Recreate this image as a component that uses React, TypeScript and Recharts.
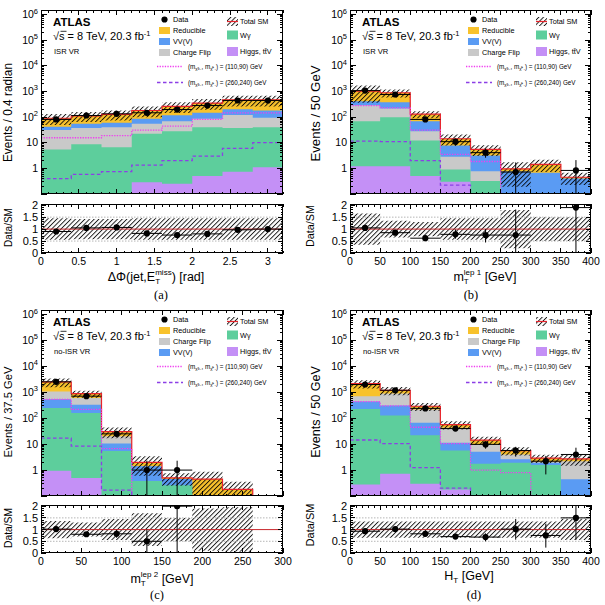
import React from 'react';
import { ComposedChart, Area, Line, Scatter, ErrorBar, XAxis, YAxis, ReferenceLine } from 'recharts';

// ---------- (a) delta phi(jet, ETmiss), ISR VR ----------
const dphiEdges = [0, 0.4, 0.8, 1.2, 1.6, 2.0, 2.4, 2.8, 3.2];
const dphiHiggs = [0, 0, 0, 0.29, 0.25, 0.5, 0.74, 1.1];
const dphiWgamma = [5.5, 8.8, 6.7, 22, 28, 40, 37, 39];
const dphiChargeFlip = [25.5, 29, 33, 33, 41, 46, 82, 54];
const dphiVV = [11, 17, 20, 31, 49, 61, 80, 86];
const dphiReducible = [48, 57, 68, 94, 142, 203, 270, 290];
const dphiUnc = [0.45, 0.42, 0.42, 0.45, 0.45, 0.45, 0.45, 0.45];
const dphiSig1 = [15.6, 15.6, 19, 31, 44, 81, 147, 147];
const dphiSig2 = [0.4, 0.58, 0.74, 1.34, 2.0, 3.0, 6.0, 10];
const dphiData = [81, 115, 134, 147, 197, 282, 444, 444];
const dphiDataLo = [72, 104, 122, 135, 183, 265, 423, 423];
const dphiDataHi = [90, 126, 146, 159, 211, 299, 465, 465];
const dphiRatio = [0.9, 1.05, 1.07, 0.82, 0.75, 0.8, 0.97, 1.0];
const dphiRatioLo = [0.8, 0.95, 0.97, 0.75, 0.69, 0.75, 0.92, 0.95];
const dphiRatioHi = [1.0, 1.15, 1.17, 0.89, 0.81, 0.85, 1.02, 1.05];

// ---------- (b) mT lep1, ISR VR ----------
const mt1Edges = [0, 50, 100, 150, 200, 250, 300, 350, 400];
const mt1Higgs = [1.2, 1.2, 0.5, 0.3, 0, 0, 0, 0];
const mt1Wgamma = [67.8, 97.8, 11.8, 0.61, 0.32, 0, 0, 0];
const mt1ChargeFlip = [221, 117, 15.7, 1.94, 0.46, 0, 0, 0];
const mt1VV = [125, 164, 41, 4.95, 2.42, 0.75, 0.68, 0.4];
const mt1Reducible = [615, 510, 61, 6.5, 2.3, 0.21, 0.75, 0.05];
const mt1Unc = [0.65, 0.35, 0.3, 0.45, 0.45, 0.8, 0.5, 0.5];
const mt1Sig1 = [282, 230, 31, 3.5, 1.85, 0.01, 0.01, 0.01];
const mt1Sig2 = [11.5, 11, 2.0, 0.22, 0.01, 0.01, 0.01, 0.01];
const mt1Data = [1080, 760, 81, 11, 4.1, 0.72, null, 0.83];
const mt1DataLo = [1047, 732, 72, 7.7, 2.6, 0.1, null, 0.1];
const mt1DataHi = [1113, 788, 90, 14.3, 6, 1.7, null, 2.1];
const mt1Ratio = [1.05, 0.85, 0.62, 0.78, 0.75, 0.75, null, 1.9];
const mt1RatioLo = [1.01, 0.82, 0.56, 0.6, 0.44, 0, null, 0];
const mt1RatioHi = [1.09, 0.88, 0.68, 0.98, 1.0, 1.82, null, 2.05];

// ---------- (c) mT lep2, no-ISR VR ----------
const mt2Edges = [0, 37.5, 75, 112.5, 150, 187.5, 225, 262.5, 300];
const mt2Higgs = [0.95, 0.5, 0, 0, 0, 0, 0, 0];
const mt2Wgamma = [249, 160, 5.5, 0.38, 0.26, 0, 0, 0];
const mt2VV = [290, 170, 5.2, 1.04, 0.19, 0, 0, 0];
const mt2ChargeFlip = [540, 270, 9.3, 0, 0, 0, 0, 0];
const mt2Reducible = [1420, 290, 10.5, 0.58, 0.05, 0.45, 0.18, 0];
const mt2Unc = [0.37, 0.3, 0.45, 0.7, 0.5, 0.9, 0.95, 0];
const mt2Sig1 = [530, 218, 6.7, 0.01, 0.01, 0.01, 0.01, 0.01];
const mt2Sig2 = [17, 8.4, 0.17, 0.01, 0.01, 0.01, 0.01, 0.01];
const mt2Data = [2550, 710, 25, 1, 1, null, null, null];
const mt2DataLo = [2500, 683, 20, 0.1, 0.1, null, null, null];
const mt2DataHi = [2600, 737, 30, 2.3, 2.3, null, null, null];
const mt2Ratio = [1.02, 0.8, 0.82, 0.5, 2.0, null, null, null];
const mt2RatioLo = [0.99, 0.77, 0.65, 0, 0, null, null, null];
const mt2RatioHi = [1.05, 0.83, 0.99, 1.0, 2.05, null, null, null];

// ---------- (d) HT, no-ISR VR ----------
const htEdges = [0, 50, 100, 150, 200, 250, 300, 350, 400];
const htHiggs = [0.28, 0.72, 0.3, 0.18, 0, 0, 0, 0];
const htWgamma = [225, 127, 21.7, 5.5, 1.76, 1.9, 1.56, 0];
const htVV = [215, 182, 45, 5.7, 3.34, 0.7, 0.37, 0.44];
const htChargeFlip = [270, 590, 151, 31.6, 4.7, 1.4, 0.17, 1.76];
const htReducible = [1440, 280, 72, 14, 4.6, 1.6, 0.8, 0.5];
const htUnc = [0.35, 0.35, 0.35, 0.35, 0.35, 0.35, 0.35, 0.45];
const htSig1 = [435, 300, 45, 10.4, 0.99, 0.8, 0.01, 0.01];
const htSig2 = [14.5, 10.4, 1.24, 0.2, 0.01, 0.01, 0.01, 0.01];
const htData = [2000, 1200, 240, 40, 9.8, 5.7, 2.2, 4.0];
const htDataLo = [1955, 1165, 225, 33.5, 6.7, 3.3, 0.68, 2.2];
const htDataHi = [2045, 1235, 255, 46.5, 12.9, 7.9, 3.5, 7.3];
const htRatio = [0.93, 1.02, 0.82, 0.7, 0.68, 1.02, 0.75, 1.5];
const htRatioLo = [0.91, 0.99, 0.76, 0.6, 0.5, 0.57, 0.23, 0.57];
const htRatioHi = [0.95, 1.05, 0.88, 0.8, 0.84, 1.45, 1.25, 2.05];

// axis ticks / labels
const logMajor = [0.1, 1, 10, 100, 1e3, 1e4, 1e5, 1e6];
const logMinorMult = [2, 3, 4, 5, 6, 7, 8, 9];
const ratioMajor = [0, 0.5, 1, 1.5, 2];
const dphiMajor = [0, 0.5, 1, 1.5, 2, 2.5, 3];
const gev400Major = [0, 50, 100, 150, 200, 250, 300, 350, 400];
const gev300Major = [0, 50, 100, 150, 200, 250, 300];
const signalMasses = ['110,90', '260,240'];

const FONT = '"Liberation Sans", Arial, Helvetica, sans-serif';
const SERIF = '"Liberation Serif", "Times New Roman", serif';

const COL_REDUCIBLE = '#f8c22c';
const COL_VV = '#5a9bf3';
const COL_CF = '#c9c9c9';
const COL_WG = '#5dce9c';
const COL_HIGGS = '#c490f6';
const COL_TOTAL = '#e8232b';
const COL_SIG1 = '#f03ef0';
const COL_SIG2 = '#8c3fe6';

const YMIN = 0.1;
const YMAX = 1.5e6;
const RMAX = 2.05;
const YW = 40;
const RM = 14;
const XH = 22;
const TM = 9; // top margin so the top tick labels are not cut

const logTicks: number[] = [];
logMajor.forEach((d) => {
  logTicks.push(d);
  logMinorMult.forEach((m) => {
    if (d * m <= YMAX) logTicks.push(d * m);
  });
});
const ratioTicks: number[] = [];
for (let i = 0; i <= 20; i++) ratioTicks.push(Math.round(i * 10) / 100);

const stepTicks = (max: number, step: number) => {
  const out: number[] = [];
  for (let i = 0; i * step <= max + 1e-9; i++) out.push(Math.round(i * step * 1e6) / 1e6);
  return out;
};

const near = (v: number, list: number[]) => list.some((m) => Math.abs(m - v) < 1e-6);

const makeXTick = (majors: number[], plotH: number, labels: boolean) => (p: any) => {
  const { x, y, payload } = p;
  const v = payload.value as number;
  const major = near(v, majors);
  const len = major ? 5 : 2.5;
  return (
    <g>
      <line x1={x} y1={y} x2={x} y2={y - len} stroke="#000" shapeRendering="crispEdges" />
      <line x1={x} y1={y - plotH} x2={x} y2={y - plotH + len} stroke="#000" shapeRendering="crispEdges" />
      {labels && major && (
        <text x={x} y={y + 12} textAnchor="middle" fontSize={10.5} fontFamily={FONT} fill="#000">
          {String(v)}
        </text>
      )}
    </g>
  );
};

const makeLogTick = (plotW: number) => (p: any) => {
  const { x, y, payload } = p;
  const v = payload.value as number;
  const e = Math.round(Math.log10(v));
  const major = Math.abs(Math.log10(v) - e) < 1e-6;
  const len = major ? 6 : 3;
  return (
    <g>
      <line x1={x} y1={y} x2={x + len} y2={y} stroke="#000" shapeRendering="crispEdges" />
      <line x1={x + plotW} y1={y} x2={x + plotW - len} y2={y} stroke="#000" shapeRendering="crispEdges" />
      {major && e >= 0 && (
        <text x={x - 3} y={y + 3.5} textAnchor="end" fontSize={10.5} fontFamily={FONT} fill="#000">
          {e === 0 ? '1' : e === 1 ? '10' : (
            <>
              10<tspan dy={-4.5} fontSize={7.5}>{e}</tspan>
            </>
          )}
        </text>
      )}
    </g>
  );
};

const makeRatioTick = (plotW: number) => (p: any) => {
  const { x, y, payload } = p;
  const v = payload.value as number;
  const major = near(v, ratioMajor);
  const len = major ? 5 : 2.5;
  return (
    <g>
      <line x1={x} y1={y} x2={x + len} y2={y} stroke="#000" shapeRendering="crispEdges" />
      <line x1={x + plotW} y1={y} x2={x + plotW - len} y2={y} stroke="#000" shapeRendering="crispEdges" />
      {major && (
        <text x={x - 3} y={y + 4} textAnchor="end" fontSize={11} fontFamily={FONT} fill="#000">
          {String(v)}
        </text>
      )}
    </g>
  );
};

const DataDot = (p: any) => <circle cx={p.cx} cy={p.cy} r={3.1} fill="#000" />;

type Item = { label: string; color: string };

const panels = [
  {
    id: 'a', edges: dphiEdges,
    layers: [
      { color: COL_HIGGS, values: dphiHiggs }, { color: COL_WG, values: dphiWgamma },
      { color: COL_CF, values: dphiChargeFlip }, { color: COL_VV, values: dphiVV },
      { color: COL_REDUCIBLE, values: dphiReducible },
    ],
    unc: dphiUnc, sig1: dphiSig1, sig2: dphiSig2,
    data: dphiData, dataLo: dphiDataLo, dataHi: dphiDataHi,
    ratio: dphiRatio, ratioLo: dphiRatioLo, ratioHi: dphiRatioHi,
    xMax: 3.2, xMajor: dphiMajor, xStep: 0.1,
    px: 41, pw: 242, py: 10, mh: 184, ry: 204, rh: 49,
    yTitle: 'Events / 0.4 radian', yTitleSize: 11.9, yTitleX: 12, yTitleY: 112.5,
    rTitleX: 12, rTitleY: 227.5, rTitleSize: 10,
    xTitleKind: 'dphi', xTitleX: 156, xTitleY: 281,
    letter: '(a)', letterX: 161, letterY: 299, region: 'ISR VR',
    col1: [{ label: 'Reducible', color: COL_REDUCIBLE }, { label: 'VV(V)', color: COL_VV }, { label: 'Charge Flip', color: COL_CF }],
  },
  {
    id: 'b', edges: mt1Edges,
    layers: [
      { color: COL_HIGGS, values: mt1Higgs }, { color: COL_WG, values: mt1Wgamma },
      { color: COL_CF, values: mt1ChargeFlip }, { color: COL_VV, values: mt1VV },
      { color: COL_REDUCIBLE, values: mt1Reducible },
    ],
    unc: mt1Unc, sig1: mt1Sig1, sig2: mt1Sig2,
    data: mt1Data, dataLo: mt1DataLo, dataHi: mt1DataHi,
    ratio: mt1Ratio, ratioLo: mt1RatioLo, ratioHi: mt1RatioHi,
    xMax: 400, xMajor: gev400Major, xStep: 10,
    px: 350, pw: 241, py: 10, mh: 184, ry: 204, rh: 49,
    yTitle: 'Events / 50 GeV', yTitleSize: 13.2, yTitleX: 319.5, yTitleY: 113.5,
    rTitleX: 314, rTitleY: 226, rTitleSize: 10.8,
    xTitleKind: 'lep 1', xTitleX: 485, xTitleY: 281,
    letter: '(b)', letterX: 471, letterY: 299, region: 'ISR VR',
    col1: [{ label: 'Reducible', color: COL_REDUCIBLE }, { label: 'VV(V)', color: COL_VV }, { label: 'Charge Flip', color: COL_CF }],
  },
  {
    id: 'c', edges: mt2Edges,
    layers: [
      { color: COL_HIGGS, values: mt2Higgs }, { color: COL_WG, values: mt2Wgamma },
      { color: COL_VV, values: mt2VV }, { color: COL_CF, values: mt2ChargeFlip },
      { color: COL_REDUCIBLE, values: mt2Reducible },
    ],
    unc: mt2Unc, sig1: mt2Sig1, sig2: mt2Sig2,
    data: mt2Data, dataLo: mt2DataLo, dataHi: mt2DataHi,
    ratio: mt2Ratio, ratioLo: mt2RatioLo, ratioHi: mt2RatioHi,
    xMax: 300, xMajor: gev300Major, xStep: 10,
    px: 41, pw: 242, py: 310, mh: 186, ry: 505, rh: 48,
    yTitle: 'Events / 37.5 GeV', yTitleSize: 11.2, yTitleX: 12, yTitleY: 412,
    rTitleX: 12, rTitleY: 528, rTitleSize: 10.3,
    xTitleKind: 'lep 2', xTitleX: 162, xTitleY: 583,
    letter: '(c)', letterX: 157, letterY: 599, region: 'no-ISR VR',
    col1: [{ label: 'Reducible', color: COL_REDUCIBLE }, { label: 'Charge Flip', color: COL_CF }, { label: 'VV(V)', color: COL_VV }],
  },
  {
    id: 'd', edges: htEdges,
    layers: [
      { color: COL_HIGGS, values: htHiggs }, { color: COL_WG, values: htWgamma },
      { color: COL_VV, values: htVV }, { color: COL_CF, values: htChargeFlip },
      { color: COL_REDUCIBLE, values: htReducible },
    ],
    unc: htUnc, sig1: htSig1, sig2: htSig2,
    data: htData, dataLo: htDataLo, dataHi: htDataHi,
    ratio: htRatio, ratioLo: htRatioLo, ratioHi: htRatioHi,
    xMax: 400, xMajor: gev400Major, xStep: 10,
    px: 350, pw: 241, py: 310, mh: 186, ry: 505, rh: 48,
    yTitle: 'Events / 50 GeV', yTitleSize: 12.6, yTitleX: 319.5, yTitleY: 412,
    rTitleX: 314, rTitleY: 525, rTitleSize: 11,
    xTitleKind: 'ht', xTitleX: 469, xTitleY: 580,
    letter: '(d)', letterX: 474, letterY: 599, region: 'no-ISR VR',
    col1: [{ label: 'Reducible', color: COL_REDUCIBLE }, { label: 'Charge Flip', color: COL_CF }, { label: 'VV(V)', color: COL_VV }],
  },
];

type Cfg = (typeof panels)[number];

function PanelCharts({ c }: { c: Cfg }) {
  const n = c.edges.length - 1;
  const cum: number[][] = [];
  c.layers.forEach((l, k) => cum.push(l.values.map((v, i) => v + (k > 0 ? cum[k - 1][i] : 0))));
  const total = cum[cum.length - 1];
  const rows = c.edges.map((x, i) => {
    const b = Math.min(i, n - 1);
    const row: Record<string, any> = { x };
    cum.forEach((cl, k) => {
      row['c' + k] = Math.max(cl[b], YMIN);
    });
    row.total = Math.max(total[b], YMIN);
    row.band = [Math.max(total[b] * (1 - c.unc[b]), YMIN), Math.max(total[b] * (1 + c.unc[b]), YMIN)];
    row.rband = [1 - c.unc[b], 1 + c.unc[b]];
    row.sig1 = c.sig1[b];
    row.sig2 = c.sig2[b];
    return row;
  });
  const pts: any[] = [];
  const rpts: any[] = [];
  for (let i = 0; i < n; i++) {
    const xc = (c.edges[i] + c.edges[i + 1]) / 2;
    const hw = (c.edges[i + 1] - c.edges[i]) / 2;
    const d = c.data[i];
    if (d != null) pts.push({ x: xc, y: d, yerr: [d - (c.dataLo[i] as number), (c.dataHi[i] as number) - d], xerr: hw });
    const r = c.ratio[i];
    if (r != null) rpts.push({ x: xc, y: r, yerr: [r - (c.ratioLo[i] as number), (c.ratioHi[i] as number) - r], xerr: hw });
  }
  const xTicks = stepTicks(c.xMax, c.xStep);
  const W = YW + c.pw + RM;
  const hatchId = 'hatch-' + c.id;
  const hatchDefs = (
    <defs>
      <pattern id={hatchId} patternUnits="userSpaceOnUse" width={3.3} height={3.3} patternTransform="rotate(45)">
        <line x1={0.5} y1={0} x2={0.5} y2={3.3} stroke="#000" strokeWidth={0.85} />
      </pattern>
    </defs>
  );
  const layerIdx = c.layers.map((_, k) => k).reverse();
  return (
    <>
      <div style={{ position: 'absolute', left: c.px - YW, top: c.py - TM }}>
        <ComposedChart width={W} height={c.mh + 1 + TM} data={rows} margin={{ top: TM, right: RM, bottom: 0, left: 0 }}>
          {hatchDefs}
          {layerIdx.map((k) => (
            <Area key={k} dataKey={'c' + k} type="stepAfter" fill={c.layers[k].color} fillOpacity={1} stroke="none"
              baseValue="dataMin" dot={false} activeDot={false} isAnimationActive={false} />
          ))}
          <Area dataKey="band" type="stepAfter" fill={`url(#${hatchId})`} fillOpacity={1} stroke="none"
            dot={false} activeDot={false} isAnimationActive={false} />
          <Line dataKey="total" type="stepAfter" stroke={COL_TOTAL} strokeWidth={1.2} dot={false} activeDot={false} isAnimationActive={false} />
          <Line dataKey="sig1" type="stepAfter" stroke={COL_SIG1} strokeWidth={1.3} strokeDasharray="1.3 1.3" dot={false} activeDot={false} isAnimationActive={false} />
          <Line dataKey="sig2" type="stepAfter" stroke={COL_SIG2} strokeWidth={1.3} strokeDasharray="3.5 2.5" dot={false} activeDot={false} isAnimationActive={false} />
          <Scatter data={pts} dataKey="y" shape={DataDot} isAnimationActive={false}>
            <ErrorBar dataKey="yerr" direction="y" width={0} stroke="#000" strokeWidth={1} />
            <ErrorBar dataKey="xerr" direction="x" width={0} stroke="#000" strokeWidth={1} />
          </Scatter>
          <XAxis dataKey="x" type="number" domain={[0, c.xMax]} allowDataOverflow ticks={xTicks} interval={0}
            height={1} tickLine={false} axisLine={false} tickSize={0} tickMargin={0}
            tick={makeXTick(c.xMajor, c.mh, false)} />
          <YAxis type="number" scale="log" domain={[YMIN, YMAX]} allowDataOverflow ticks={logTicks} interval={0}
            width={YW} tickLine={false} axisLine={false} tickSize={0} tickMargin={0} tick={makeLogTick(c.pw)} />
        </ComposedChart>
      </div>
      <div style={{ position: 'absolute', left: c.px - YW, top: c.ry - TM }}>
        <ComposedChart width={W} height={c.rh + XH + TM} data={rows} margin={{ top: TM, right: RM, bottom: 0, left: 0 }}>
          {hatchDefs}
          <Area dataKey="rband" type="stepAfter" fill={`url(#${hatchId})`} fillOpacity={1} stroke="none"
            dot={false} activeDot={false} isAnimationActive={false} />
          <ReferenceLine y={0.5} stroke="#b5b5b5" strokeDasharray="1.5 1.5" />
          <ReferenceLine y={1.5} stroke="#b5b5b5" strokeDasharray="1.5 1.5" />
          <ReferenceLine y={1} stroke="#c8282d" strokeWidth={1} />
          <Scatter data={rpts} dataKey="y" shape={DataDot} isAnimationActive={false}>
            <ErrorBar dataKey="yerr" direction="y" width={0} stroke="#000" strokeWidth={1} />
            <ErrorBar dataKey="xerr" direction="x" width={0} stroke="#000" strokeWidth={1} />
          </Scatter>
          <XAxis dataKey="x" type="number" domain={[0, c.xMax]} allowDataOverflow ticks={xTicks} interval={0}
            height={XH} tickLine={false} axisLine={false} tickSize={0} tickMargin={0}
            tick={makeXTick(c.xMajor, c.rh, true)} />
          <YAxis type="number" domain={[0, RMAX]} allowDataOverflow ticks={ratioTicks} interval={0}
            width={YW} tickLine={false} axisLine={false} tickSize={0} tickMargin={0} tick={makeRatioTick(c.pw)} />
        </ComposedChart>
      </div>
    </>
  );
}

function XTitle({ c }: { c: Cfg }) {
  const common = { x: c.xTitleX, y: c.xTitleY, textAnchor: 'middle' as const, fontSize: 12.5, fontFamily: FONT, fill: '#000' };
  if (c.xTitleKind === 'dphi') {
    return (
      <text {...common}>
        ΔΦ(jet,E<tspan dy={3} fontSize={8}>T</tspan><tspan dx={-4.9} dy={-9} fontSize={8}>miss</tspan><tspan dy={6}>) [rad]</tspan>
      </text>
    );
  }
  if (c.xTitleKind === 'ht') {
    return (
      <text {...common}>
        H<tspan dy={3} fontSize={8}>T</tspan><tspan dy={-3}> [GeV]</tspan>
      </text>
    );
  }
  return (
    <text {...common}>
      m<tspan dy={3} fontSize={8}>T</tspan><tspan dx={-4.9} dy={-9} fontSize={8}>{c.xTitleKind}</tspan><tspan dy={6}> [GeV]</tspan>
    </text>
  );
}

function PanelOverlay({ c }: { c: Cfg }) {
  const L = c.px;
  const T = c.py;
  const c1 = L + 118;
  const c2 = L + 186;
  const rows1 = [20.5, 31.5, 42.5];
  const col2: Item[] = [{ label: 'Wγ', color: COL_WG }, { label: 'Higgs, tt̄V', color: COL_HIGGS }];
  const rows2 = [25, 41.5];
  const sigRows = [56.5, 72.5];
  return (
    <g fontFamily={FONT} fill="#000">
      <rect x={c.px + 0.5} y={c.py + 0.5} width={c.pw - 1} height={c.mh - 1} fill="none" stroke="#000" strokeWidth={1} />
      <rect x={c.px + 0.5} y={c.ry + 0.5} width={c.pw - 1} height={c.rh - 1} fill="none" stroke="#000" strokeWidth={1} />
      <text transform={`translate(${c.yTitleX},${c.yTitleY}) rotate(-90)`} textAnchor="middle" fontSize={c.yTitleSize}>{c.yTitle}</text>
      <text transform={`translate(${c.rTitleX},${c.rTitleY}) rotate(-90)`} textAnchor="middle" fontSize={c.rTitleSize}>Data/SM</text>
      <XTitle c={c} />
      <text x={c.letterX} y={c.letterY} textAnchor="middle" fontSize={12.5} fontFamily={SERIF}>{c.letter}</text>

      <text x={L + 12} y={T + 16} fontSize={11.5} fontWeight="bold">ATLAS</text>
      <text x={L + 12} y={T + 30} fontSize={11}>√s = 8 TeV, 20.3 fb<tspan dy={-4.5} fontSize={7.5}>-1</tspan></text>
      <line x1={L + 19.5} y1={T + 21.3} x2={L + 25.5} y2={T + 21.3} stroke="#000" strokeWidth={0.8} />
      <text x={L + 13} y={T + 44} fontSize={7.6}>{c.region}</text>

      <circle cx={c1 + 5.5} cy={T + 9.5} r={3.1} fill="#000" />
      <text x={c1 + 14} y={T + 12} fontSize={7.3}>Data</text>
      {c.col1.map((it: Item, i: number) => (
        <g key={it.label}>
          <rect x={c1} y={T + rows1[i] - 3.5} width={11} height={7} fill={it.color} />
          <text x={c1 + 14} y={T + rows1[i] + 2.5} fontSize={7.3}>{it.label}</text>
        </g>
      ))}

      <rect x={c2} y={T + 11.5 - 4.5} width={11} height={9} fill="url(#hatch-legend)" />
      <line x1={c2} y1={T + 11.5} x2={c2 + 11} y2={T + 11.5} stroke={COL_TOTAL} strokeWidth={1.2} />
      <text x={c2 + 13} y={T + 14} fontSize={7.3}>Total SM</text>
      {col2.map((it, i) => (
        <g key={it.label}>
          <rect x={c2} y={T + rows2[i] - 4.5} width={11} height={9} fill={it.color} />
          <text x={c2 + 13} y={T + rows2[i] + 2.5} fontSize={7.3}>{it.label}</text>
        </g>
      ))}

      {signalMasses.map((m, i) => (
        <g key={m}>
          <line x1={L + 116} y1={T + sigRows[i]} x2={L + 142} y2={T + sigRows[i]}
            stroke={i === 0 ? COL_SIG1 : COL_SIG2} strokeWidth={1.3} strokeDasharray={i === 0 ? '1.3 1.3' : '3.5 2.5'} />
          <text x={L + 147} y={T + sigRows[i] + 2} fontSize={6.3}>
            (m<tspan fontSize={4.3} dy={1.8}>χ̃±₁</tspan><tspan dy={-1.8}>, m</tspan><tspan fontSize={4.3} dy={1.8}>χ̃⁰₁</tspan><tspan dy={-1.8}>) = ({m}) GeV</tspan>
          </text>
        </g>
      ))}
    </g>
  );
}

export default function App() {
  return (
    <div style={{ position: 'absolute', left: 0, top: 0, width: 605, height: 605, background: '#fff', fontFamily: FONT }}>
      {panels.map((c) => (
        <PanelCharts key={c.id} c={c} />
      ))}
      <svg width={605} height={605} style={{ position: 'absolute', left: 0, top: 0, pointerEvents: 'none' }}>
        <defs>
          <pattern id="hatch-legend" patternUnits="userSpaceOnUse" width={3.3} height={3.3} patternTransform="rotate(45)">
            <line x1={0.5} y1={0} x2={0.5} y2={3.3} stroke="#000" strokeWidth={0.85} />
          </pattern>
        </defs>
        {panels.map((c) => (
          <PanelOverlay key={c.id} c={c} />
        ))}
      </svg>
    </div>
  );
}
